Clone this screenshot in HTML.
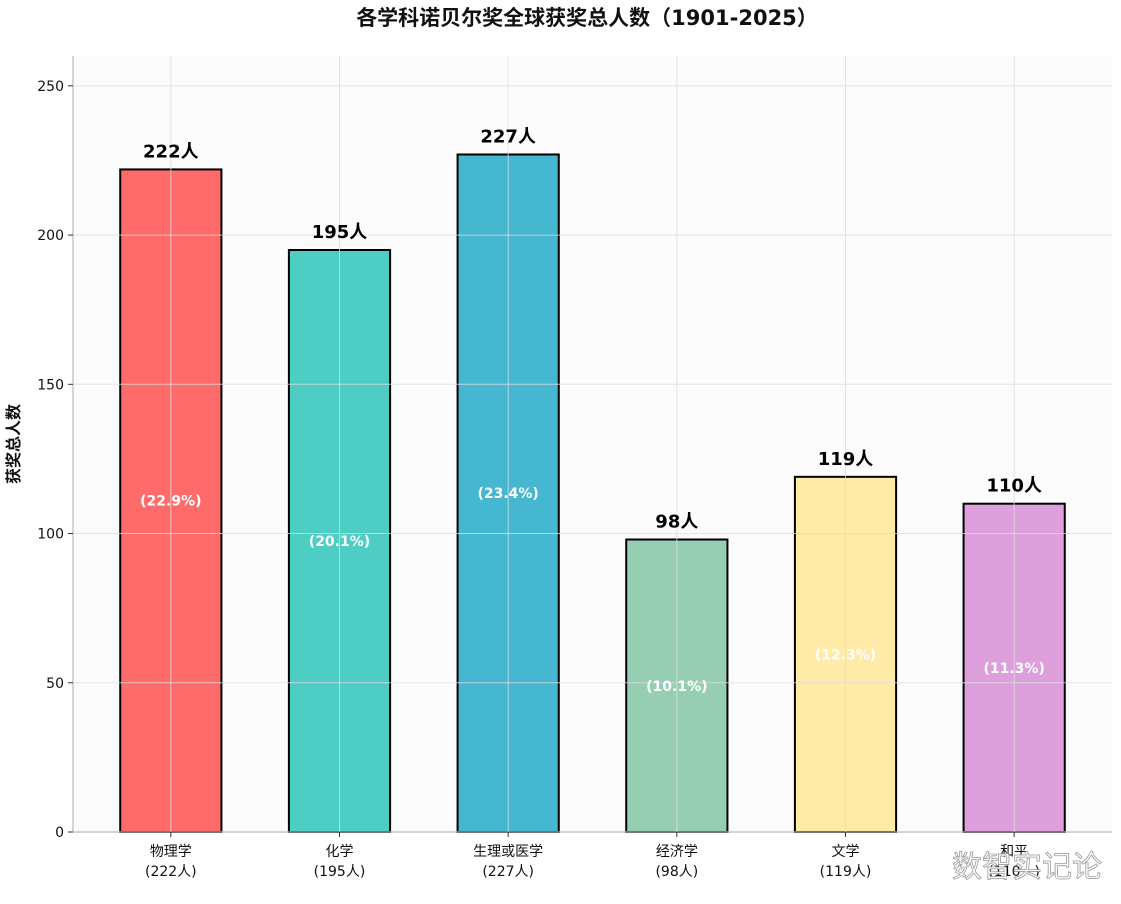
<!DOCTYPE html>
<html><head><meta charset="utf-8">
<style>
body{margin:0;background:#fff;}
svg{display:block;font-family:"DejaVu Sans","Liberation Sans","Noto Sans CJK SC",sans-serif;}
</style></head>
<body>
<svg id="chart" width="1121" height="904" xmlns="http://www.w3.org/2000/svg">
<text x="587" y="25" text-anchor="middle" font-size="21" font-weight="bold" fill="#111" font-family="'DejaVu Sans','Noto Sans CJK SC',sans-serif">各学科诺贝尔奖全球获奖总人数（1901-2025）</text>
<rect x="73" y="56" width="1039" height="776" fill="#fcfcfc"/>
<g id="bars"></g>
<g id="grid"></g>
<g id="labels"></g>
<line x1="73" y1="56" x2="73" y2="832" stroke="#bbb" stroke-width="1.2"/>
<line x1="73" y1="832" x2="1112" y2="832" stroke="#bbb" stroke-width="1.2"/>
<g id="yticks"></g>
<g id="xticks"></g>
<text transform="translate(19,444) rotate(-90)" text-anchor="middle" font-size="16" font-weight="bold" fill="#111" font-family="'Noto Sans CJK SC',sans-serif">获奖总人数</text>
<text x="1102" y="877" text-anchor="end" font-size="30" fill="#fff" stroke="#999" stroke-width="0.8" font-family="'Noto Sans CJK SC',sans-serif">数智实记论</text>
</svg>
<script>
const categories=["物理学","化学","生理或医学","经济学","文学","和平"];
const values=[222,195,227,98,119,110];
const percents=["22.9%","20.1%","23.4%","10.1%","12.3%","11.3%"];
const colors=["#ff6b6b","#4ecdc4","#45b7d1","#96ceb4","#ffeaa7","#dda0dd"];
const yTicks=[0,50,100,150,200,250];
const NS="http://www.w3.org/2000/svg";
const y0=832,yTop=56,yMax=260;
const xL=73,xR=1112,xMin=-0.58,xMax=5.58;
function ys(v){return y0-(v/yMax)*(y0-yTop);}
function xs(i){return xL+(i-xMin)/(xMax-xMin)*(xR-xL);}
const bw=0.6*(xR-xL)/(xMax-xMin);
function mk(tag,attrs,parent,txt){const e=document.createElementNS(NS,tag);for(const k in attrs)e.setAttribute(k,attrs[k]);if(txt!==undefined)e.textContent=txt;document.getElementById(parent).appendChild(e);return e;}
values.forEach((v,i)=>{
  const cx=xs(i);
  const b=mk('rect',{x:cx-bw/2,y:ys(v),width:bw,height:y0-ys(v),fill:colors[i],stroke:'#000','stroke-width':2},'bars');
  
  
  const t=mk('text',{x:cx,y:ys(v)-12,'text-anchor':'middle','font-size':18,'font-weight':'bold',fill:'#000','font-family':"'DejaVu Sans','Noto Sans CJK SC',sans-serif"},'labels',v+'人');
  
  
  const p=mk('text',{x:cx,y:ys(v/2)+5,'text-anchor':'middle','font-size':14,'font-weight':'bold',fill:'#fff','font-family':"'DejaVu Sans',sans-serif"},'labels','('+percents[i]+')');
  
  
  const g=mk('line',{x1:cx,y1:yTop,x2:cx,y2:y0,stroke:'#ddd','stroke-width':1,opacity:0.8},'grid');
  
  
  const tk=mk('line',{x1:cx,y1:y0,x2:cx,y2:y0+5,stroke:'#333'},'xticks');
  
  
  const l1=mk('text',{x:cx,y:856,'text-anchor':'middle','font-size':14,fill:'#111','font-family':"'Noto Sans CJK SC',sans-serif"},'xticks',categories[i]);
  
  
  const l2=mk('text',{x:cx,y:876,'text-anchor':'middle','font-size':14,fill:'#111','font-family':"'DejaVu Sans','Noto Sans CJK SC',sans-serif"},'xticks','('+v+'人)');
  
  
});
yTicks.forEach(v=>{
  const y=ys(v);
  const g=mk('line',{x1:xL,y1:y,x2:xR,y2:y,stroke:'#ddd','stroke-width':1,opacity:0.8},'grid');
  
  
  const tk=mk('line',{x1:xL-5,y1:y,x2:xL,y2:y,stroke:'#333'},'yticks');
  
  
  const t=mk('text',{x:xL-9,y:y+5,'text-anchor':'end','font-size':14,fill:'#111','font-family':"'DejaVu Sans',sans-serif"},'yticks',v);
  
  
});
</script>
</body></html>
